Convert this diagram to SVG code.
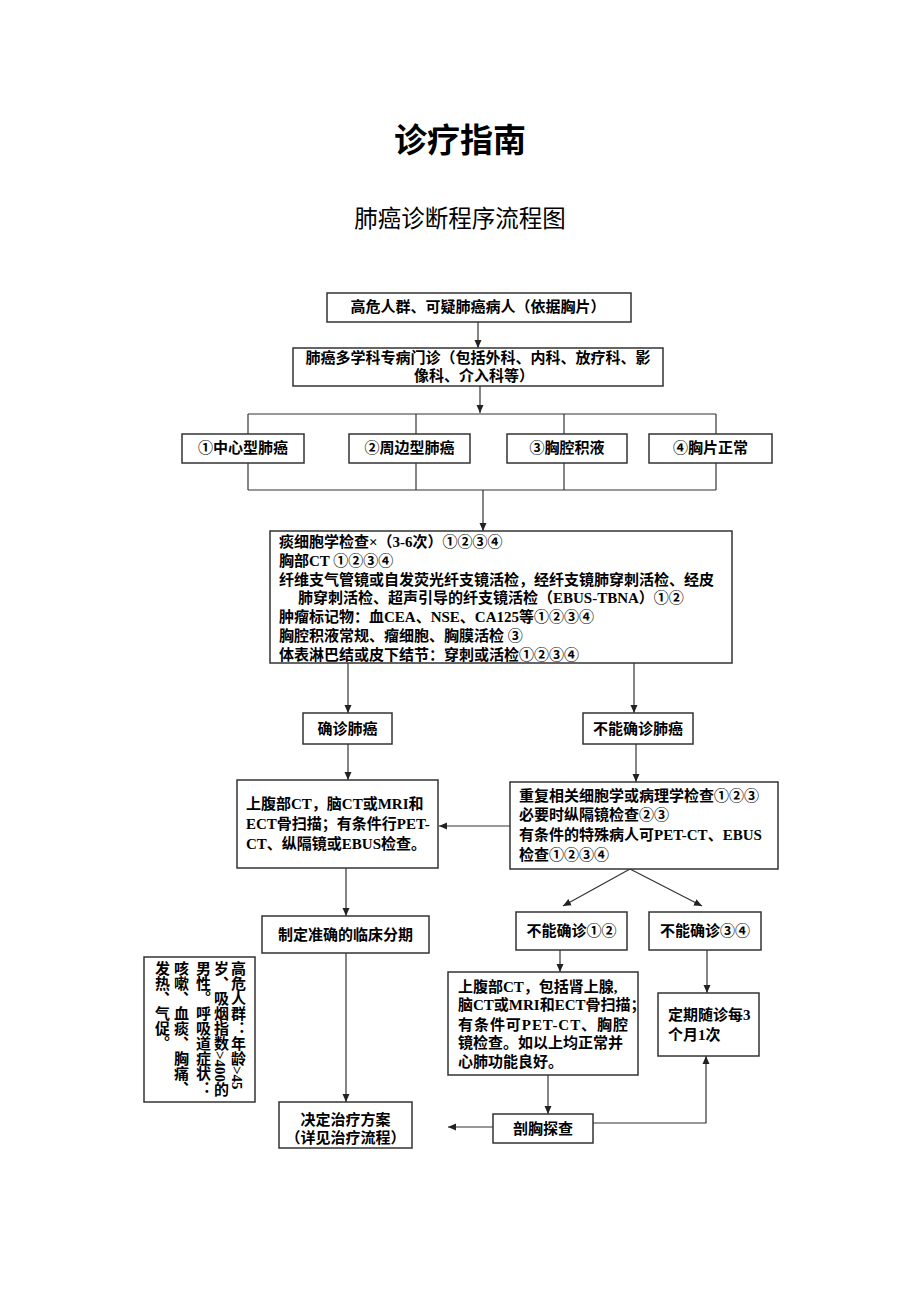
<svg xmlns="http://www.w3.org/2000/svg" width="920" height="1302" viewBox="0 0 920 1302">
<style>
.box{fill:#fff;stroke:#333;stroke-width:1.5}
.t{font-family:"Liberation Serif","Noto Sans CJK SC",serif;font-size:15px;font-weight:bold;fill:#000}
.q{font-family:"Noto Sans CJK SC",sans-serif}
.c{text-anchor:middle}
.ln{stroke:#333;stroke-width:1.2;fill:none}
.ar{marker-end:url(#ah)}
.v{writing-mode:vertical-rl}
</style>
<defs>
<marker id="ah" markerWidth="8" markerHeight="8" refX="8" refY="4" orient="auto" markerUnits="userSpaceOnUse">
<path d="M0,0.5 L8,4 L0,7.5 z" fill="#222"/>
</marker>
</defs>
<rect width="920" height="1302" fill="#fff"/>
<g id="title">
<text x="460" y="152" class="c" style="font-family:'Noto Sans CJK SC',sans-serif;font-size:33px;font-weight:bold">诊疗指南</text>
<text x="460" y="227" class="c" style="font-family:'Noto Sans CJK SC',sans-serif;font-size:23.5px">肺癌诊断程序流程图</text>
</g>
<g id="connectors">
<line class="ln ar" x1="478" y1="322" x2="478" y2="348"/>
<line class="ln ar" x1="480" y1="386" x2="480" y2="413"/>
<line class="ln" x1="248" y1="414" x2="716" y2="414"/>
<line class="ln" x1="248" y1="414" x2="248" y2="434"/>
<line class="ln" x1="416" y1="414" x2="416" y2="434"/>
<line class="ln" x1="564" y1="414" x2="564" y2="434"/>
<line class="ln" x1="716" y1="414" x2="716" y2="434"/>
<line class="ln" x1="248" y1="463" x2="248" y2="490"/>
<line class="ln" x1="416" y1="463" x2="416" y2="490"/>
<line class="ln" x1="564" y1="463" x2="564" y2="490"/>
<line class="ln" x1="716" y1="463" x2="716" y2="490"/>
<line class="ln" x1="248" y1="490" x2="716" y2="490"/>
<line class="ln ar" x1="483" y1="490" x2="483" y2="531"/>
<line class="ln ar" x1="348" y1="663" x2="348" y2="713"/>
<line class="ln ar" x1="634" y1="663" x2="634" y2="713"/>
<line class="ln ar" x1="348" y1="744" x2="348" y2="780"/>
<line class="ln ar" x1="636" y1="744" x2="636" y2="782"/>
<line class="ln ar" x1="510" y1="826" x2="439" y2="826"/>
<line class="ln ar" x1="630" y1="869" x2="563" y2="906"/>
<line class="ln ar" x1="630" y1="869" x2="702" y2="906"/>
<line class="ln ar" x1="346" y1="868" x2="346" y2="916"/>
<line class="ln ar" x1="346" y1="953" x2="346" y2="1102"/>
<line class="ln ar" x1="560" y1="950" x2="560" y2="972"/>
<line class="ln ar" x1="707" y1="950" x2="707" y2="993"/>
<line class="ln ar" x1="548" y1="1075" x2="548" y2="1114"/>
<line class="ln ar" x1="493" y1="1127" x2="448" y2="1127"/>
<polyline class="ln ar" points="593,1123 706,1123 706,1056"/>
</g>
<g id="n1">
<rect class="box" x="327" y="293" width="304" height="29"/>
<text class="t c" x="478" y="312">高危人群、可疑肺癌病人（依据胸片）</text>
</g>
<g id="n2">
<rect class="box" x="293" y="348" width="370" height="38"/>
<text class="t c" x="478" y="363">肺癌多学科专病门诊（包括外科、内科、放疗科、影</text>
<text class="t c" x="474" y="381">像科、介入科等）</text>
</g>
<g id="n3">
<rect class="box" x="182" y="434" width="122" height="29"/>
<text class="t c" x="243" y="453"><tspan class="q">①</tspan>中心型肺癌</text>
</g>
<g id="n4">
<rect class="box" x="349" y="434" width="121" height="29"/>
<text class="t c" x="409.5" y="453"><tspan class="q">②</tspan>周边型肺癌</text>
</g>
<g id="n5">
<rect class="box" x="507" y="434" width="120" height="29"/>
<text class="t c" x="567" y="453"><tspan class="q">③</tspan>胸腔积液</text>
</g>
<g id="n6">
<rect class="box" x="649" y="434" width="123" height="29"/>
<text class="t c" x="710.5" y="453"><tspan class="q">④</tspan>胸片正常</text>
</g>
<g id="n7">
<rect class="box" x="270" y="531" width="462" height="132"/>
<text class="t" x="279" y="547">痰细胞学检查×（3-6次）<tspan class="q">①②③④</tspan></text>
<text class="t" x="279" y="566">胸部CT <tspan class="q">①②③④</tspan></text>
<text class="t" x="279" y="585">纤维支气管镜或自发荧光纤支镜活检，经纤支镜肺穿刺活检、经皮</text>
<text class="t" x="298" y="603">肺穿刺活检、超声引导的纤支镜活检（EBUS-TBNA）<tspan class="q">①②</tspan></text>
<text class="t" x="279" y="622">肿瘤标记物：血CEA、NSE、CA125等<tspan class="q">①②③④</tspan></text>
<text class="t" x="279" y="641">胸腔积液常规、瘤细胞、胸膜活检 <tspan class="q">③</tspan></text>
<text class="t" x="279" y="660">体表淋巴结或皮下结节：穿刺或活检<tspan class="q">①②③④</tspan></text>
</g>
<g id="n8">
<rect class="box" x="303" y="713" width="89" height="31"/>
<text class="t c" x="347.5" y="734">确诊肺癌</text>
</g>
<g id="n9">
<rect class="box" x="583" y="713" width="110" height="31"/>
<text class="t c" x="638" y="734">不能确诊肺癌</text>
</g>
<g id="n10">
<rect class="box" x="237" y="780" width="201" height="88"/>
<text class="t" x="246" y="809">上腹部CT，脑CT或MRI和</text>
<text class="t" x="246" y="829">ECT骨扫描；有条件行PET-</text>
<text class="t" x="246" y="849">CT、纵隔镜或EBUS检查。</text>
</g>
<g id="n11">
<rect class="box" x="510" y="782" width="268" height="87"/>
<text class="t" x="519" y="801">重复相关细胞学或病理学检查<tspan class="q">①②③</tspan></text>
<text class="t" x="519" y="820">必要时纵隔镜检查<tspan class="q">②③</tspan></text>
<text class="t" x="519" y="840">有条件的特殊病人可PET-CT、EBUS</text>
<text class="t" x="519" y="860">检查<tspan class="q">①②③④</tspan></text>
</g>
<g id="n12">
<rect class="box" x="516" y="912" width="111" height="38"/>
<text class="t c" x="571.5" y="936">不能确诊<tspan class="q">①②</tspan></text>
</g>
<g id="n13">
<rect class="box" x="649" y="912" width="112" height="38"/>
<text class="t c" x="705" y="936">不能确诊<tspan class="q">③④</tspan></text>
</g>
<g id="n14">
<rect class="box" x="262" y="916" width="167" height="37"/>
<text class="t c" x="345.5" y="940">制定准确的临床分期</text>
</g>
<g id="n15">
<rect class="box" x="144" y="957" width="111" height="145"/>
<text class="t v" x="237" y="961">高危人群：年龄&gt;45</text>
<text class="t v" x="220" y="961">岁、吸烟指数&gt;400的</text>
<text class="t v" x="202" y="961">男性。呼吸道症状：</text>
<text class="t v" x="180" y="961">咳嗽、血痰、胸痛、</text>
<text class="t v" x="161" y="961">发热、气促。</text>
</g>
<g id="n16">
<rect class="box" x="448" y="972" width="190" height="103"/>
<text class="t" x="458" y="992">上腹部CT，包括肾上腺,</text>
<text class="t" x="458" y="1010">脑CT或MRI和ECT骨扫描；</text>
<text class="t" x="458" y="1030" textLength="170" lengthAdjust="spacing">有条件可PET-CT、胸腔</text>
<text class="t" x="458" y="1048">镜检查。如以上均正常并</text>
<text class="t" x="458" y="1067">心肺功能良好。</text>
</g>
<g id="n17">
<rect class="box" x="658" y="993" width="101" height="63"/>
<text class="t" x="668" y="1020">定期随诊每3</text>
<text class="t" x="668" y="1040">个月1次</text>
</g>
<g id="n18">
<rect class="box" x="279" y="1102" width="133" height="46"/>
<text class="t c" x="345.5" y="1125">决定治疗方案</text>
<text class="t c" x="345.5" y="1143">（详见治疗流程）</text>
</g>
<g id="n19">
<rect class="box" x="493" y="1114" width="100" height="29"/>
<text class="t c" x="543" y="1134">剖胸探查</text>
</g>
</svg>
